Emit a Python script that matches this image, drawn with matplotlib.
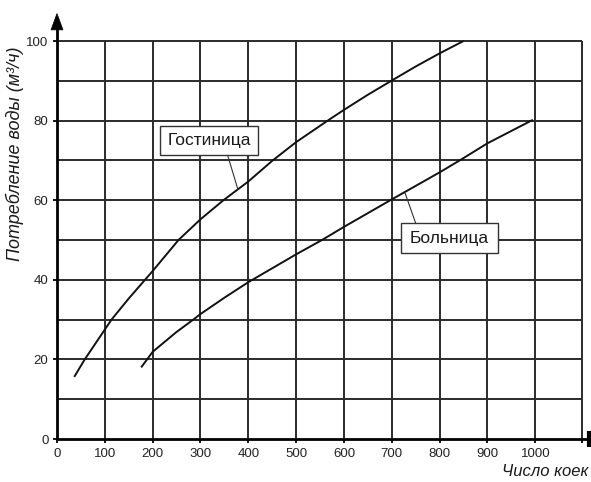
import matplotlib
matplotlib.use("Agg")
import matplotlib.pyplot as plt
from matplotlib.patches import Polygon, Rectangle

# ---- data ----
hotel_x = [36, 58, 100, 114, 150, 184, 200, 254, 300, 348, 400, 450, 500, 566, 600, 650, 699, 750, 800, 850]
hotel_y = [15.6, 20, 27.5, 30, 35.3, 40, 42.2, 50, 55.2, 60, 64.7, 69.9, 74.6, 80, 82.7, 86.5, 90, 93.6, 96.9, 100]
hosp_x = [176, 200, 250, 285, 300, 350, 400, 500, 554, 600, 697, 750, 800, 842, 900, 995]
hosp_y = [18.0, 21.9, 26.9, 30, 31.4, 35.5, 39.4, 46.4, 50, 53.3, 60, 63.6, 67.0, 70, 74.3, 80.2]
hotel_label = "Гостиница"
hosp_label = "Больница"
x_ticks = [0, 100, 200, 300, 400, 500, 600, 700, 800, 900, 1000]
y_ticks = [0, 20, 40, 60, 80, 100]
y_grid = [10, 20, 30, 40, 50, 60, 70, 80, 90, 100]
x_label = "Число коек"
y_label = "Потребление воды (м³/ч)"

NARROW = ["Liberation Sans Narrow", "Liberation Sans", "DejaVu Sans"]
GRID_END = 1097
X_MAX = 1115
Y_MAX = 107

fig = plt.figure(figsize=(5.91, 4.82), dpi=100)
W, H = 591, 482
x_px = 0.4783  # pixels per x unit
y_px = 3.98    # pixels per y unit
ax = fig.add_axes([57 / W, 43 / H, X_MAX * x_px / W, Y_MAX * y_px / H])
ax.set_xlim(0, X_MAX)
ax.set_ylim(0, Y_MAX)
for s in ax.spines.values():
    s.set_visible(False)

gc = "#2b2b2b"
# grid
for xv in x_ticks[1:] + [GRID_END]:
    ax.plot([xv, xv], [0, 100], color=gc, lw=1.4, solid_capstyle="butt")
for yv in y_grid:
    ax.plot([0, GRID_END], [yv, yv], color=gc, lw=1.4, solid_capstyle="butt")

# axes lines
ax.plot([0, 1112], [0, 0], color="black", lw=2.0, clip_on=False, solid_capstyle="butt")
ax.plot([0, 0], [0, 103], color="black", lw=2.0, clip_on=False, solid_capstyle="butt")
ax.add_patch(Polygon([(-12.5, 102.8), (12.5, 102.8), (0, 106.9)], closed=True,
                     facecolor="black", edgecolor="black", lw=0.5, clip_on=False))
ax.plot([1112, 1112], [-1.9, 1.9], color="black", lw=3.0, clip_on=False, solid_capstyle="butt")

# ticks
ax.set_xticks(x_ticks + [GRID_END])
ax.set_xticklabels([str(v) for v in x_ticks] + [""])
ax.set_yticks(y_ticks)
ax.set_yticklabels([str(v) for v in y_ticks])
ax.tick_params(axis="both", direction="out", length=3.2, width=1.3, color="black",
               labelsize=9.5, labelcolor="#222222")
ax.tick_params(axis="x", pad=3.5)
ax.tick_params(axis="y", pad=3)
for lab in ax.get_xticklabels() + ax.get_yticklabels():
    lab.set_family(NARROW)

# curves
ax.plot(hotel_x, hotel_y, color="#111111", lw=1.4, solid_capstyle="butt")
ax.plot(hosp_x, hosp_y, color="#111111", lw=1.4, solid_capstyle="butt")

# label boxes with leader lines
ax.plot([357, 378], [71.2, 62.8], color="#333333", lw=0.8)
ax.add_patch(Rectangle((215.3, 71.4), 204.9, 7.2, facecolor="white", edgecolor="#333333", lw=1.0, zorder=3))
ax.text(317.8, 75.0, hotel_label, ha="center", va="center", fontsize=12.5, family=NARROW,
        color="#1a1a1a", zorder=4)

ax.plot([750, 728], [54.2, 61.7], color="#333333", lw=0.8)
ax.add_patch(Rectangle((718.6, 46.8), 204.0, 7.4, facecolor="white", edgecolor="#333333", lw=1.0, zorder=3))
ax.text(820.6, 50.5, hosp_label, ha="center", va="center", fontsize=12.5, family=NARROW,
        color="#1a1a1a", zorder=4)

# axis titles
fig.text(588 / W, 1 - 472 / H, x_label, ha="right", va="center", fontsize=12,
         style="italic", family=NARROW, color="#1a1a1a")
fig.text(15 / W, 1 - 154 / H, y_label, ha="center", va="center", rotation=90,
         fontsize=13, style="italic", family=NARROW, color="#1a1a1a")

fig.savefig("out.png", dpi=100)
